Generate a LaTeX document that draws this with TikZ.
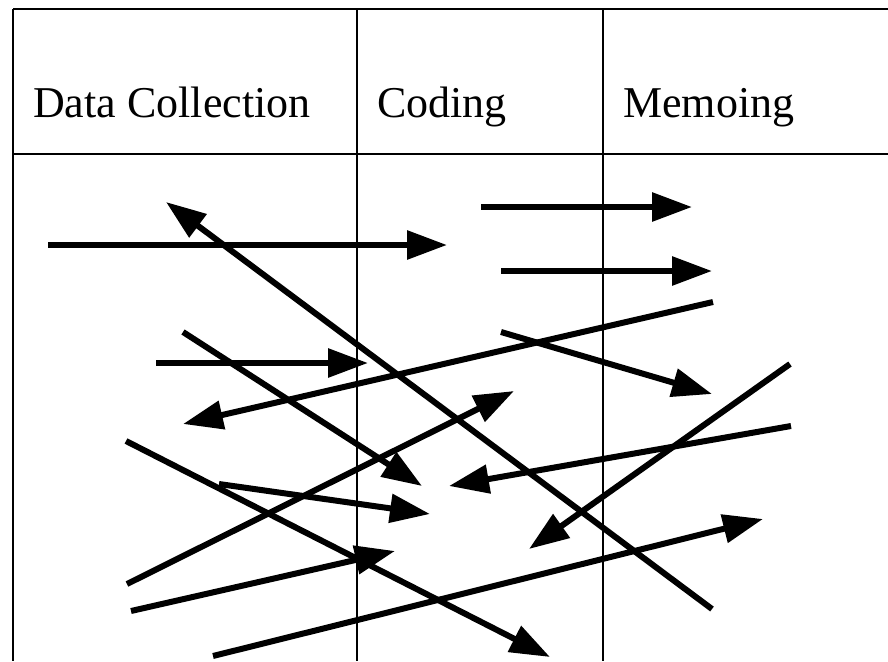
\documentclass[tikz,border=0pt]{standalone}
\usepackage{tikz}
\usepackage{fontspec}
\setmainfont{Liberation Serif}
\usetikzlibrary{arrows.meta,positioning}

\begin{document}
\begin{tikzpicture}[x=1pt,y=-1pt]
  \useasboundingbox (0,0) rectangle (888,661);

  \tikzstyle{RuleStyle}=[line width=1.8pt]
  \tikzstyle{HeadStyle}=[anchor=base west,inner sep=0pt,font=\fontsize{44}{52}\selectfont]
  \tikzstyle{FlowStyle}=[line width=6pt,-{Triangle[length=40pt,width=28pt]}]

  % table
  \coordinate (tl) at (13,9);
  \coordinate (tr) at (888,9);
  \coordinate (hl) at (13,154);
  \coordinate (hr) at (888,154);
  \coordinate (bl) at (13,661);
  \coordinate (c1t) at (357,9);
  \coordinate (c1b) at (357,661);
  \coordinate (c2t) at (603,9);
  \coordinate (c2b) at (603,661);
  \draw[RuleStyle] (tl) -- (tr);
  \draw[RuleStyle] (hl) -- (hr);
  \draw[RuleStyle] (tl) -- (bl);
  \draw[RuleStyle] (c1t) -- (c1b);
  \draw[RuleStyle] (c2t) -- (c2b);

  \node[HeadStyle] (data) at (33,117) {Data Collection};
  \node[HeadStyle] (coding) at (377,117) {Coding};
  \node[HeadStyle] (memo) at (623,117) {Memoing};

  % arrow ends
  \coordinate (a1) at (48,245);   \coordinate (b1) at (447,245);
  \coordinate (a2) at (712,609);  \coordinate (b2) at (166,202);
  \coordinate (a3) at (481,207);  \coordinate (b3) at (692,207);
  \coordinate (a4) at (501,271);  \coordinate (b4) at (712,271);
  \coordinate (a5) at (713,302);  \coordinate (b5) at (183,424);
  \coordinate (a6) at (156,363);  \coordinate (b6) at (368,363);
  \coordinate (a7) at (183,332);  \coordinate (b7) at (422,486);
  \coordinate (a8) at (501,332);  \coordinate (b8) at (712,394);
  \coordinate (a9) at (127,584);  \coordinate (b9) at (514,391);
  \coordinate (a10) at (126,441); \coordinate (b10) at (550,657);
  \coordinate (a11) at (219,484); \coordinate (b11) at (430,514);
  \coordinate (a12) at (131,611); \coordinate (b12) at (395,551);
  \coordinate (a13) at (213,656); \coordinate (b13) at (763,519);
  \coordinate (a14) at (791,426); \coordinate (b14) at (449,486);
  \coordinate (a15) at (790,364); \coordinate (b15) at (529,549);

  \draw[FlowStyle] (a1) -- (b1);
  \draw[FlowStyle] (a2) -- (b2);
  \draw[FlowStyle] (a3) -- (b3);
  \draw[FlowStyle] (a4) -- (b4);
  \draw[FlowStyle] (a5) -- (b5);
  \draw[FlowStyle] (a6) -- (b6);
  \draw[FlowStyle] (a7) -- (b7);
  \draw[FlowStyle] (a8) -- (b8);
  \draw[FlowStyle] (a9) -- (b9);
  \draw[FlowStyle] (a10) -- (b10);
  \draw[FlowStyle] (a11) -- (b11);
  \draw[FlowStyle] (a12) -- (b12);
  \draw[FlowStyle] (a13) -- (b13);
  \draw[FlowStyle] (a14) -- (b14);
  \draw[FlowStyle] (a15) -- (b15);
\end{tikzpicture}
\end{document}
